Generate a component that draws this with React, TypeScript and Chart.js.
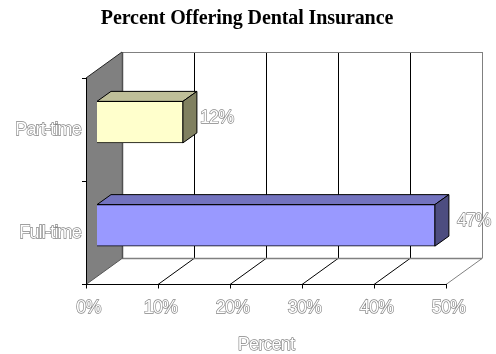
import React, { useEffect, useRef } from "react";
import { Chart, registerables } from "chart.js";

Chart.register(...registerables);

const chartTitle = "Percent Offering Dental Insurance";
const axisTitle = "Percent";
const categories = ["Part-time", "Full-time"];
const percentValues = [12, 47];
const faceColors = ["#ffffcc", "#9999ff"];
const topColors = ["#bfbf99", "#7373bf"];
const sideColors = ["#808060", "#4d4d80"];
const valueLabelGaps = [3, 8];
const axisTicks = [0, 10, 20, 30, 40, 50];

const WALL_DX = 36;
const WALL_DY = -26;
const BAR_SHIFT_X = 10.5;
const BAR_SHIFT_Y = -7.5;
const BAR_DEPTH_X = 14;
const BAR_DEPTH_Y = -10;

const LABEL_SPACING = "-0.8px";
const LABEL_FONT = "18px 'Liberation Sans'";
const HOLLOW_GREY = "#858585";
const HOLLOW_STROKE = 1.3;

function line(ctx: CanvasRenderingContext2D, x1: number, y1: number, x2: number, y2: number, color: string, width = 1) {
  ctx.beginPath();
  ctx.moveTo(x1, y1);
  ctx.lineTo(x2, y2);
  ctx.strokeStyle = color;
  ctx.lineWidth = width;
  ctx.stroke();
}

function poly(ctx: CanvasRenderingContext2D, pts: number[][], fill: string) {
  ctx.beginPath();
  pts.forEach(([x, y], i) => (i ? ctx.lineTo(x, y) : ctx.moveTo(x, y)));
  ctx.closePath();
  ctx.fillStyle = fill;
  ctx.fill();
  ctx.strokeStyle = "#000";
  ctx.lineWidth = 1;
  ctx.stroke();
}

function hollowText(ctx: CanvasRenderingContext2D, text: string, x: number, y: number, align: CanvasTextAlign) {
  ctx.save();
  ctx.font = LABEL_FONT;
  ctx.textAlign = align;
  ctx.textBaseline = "middle";
  ctx.lineJoin = "round";
  ctx.strokeStyle = HOLLOW_GREY;
  ctx.lineWidth = HOLLOW_STROKE;
  ctx.strokeText(text, x, y);
  ctx.fillStyle = "#fff";
  ctx.fillText(text, x, y);
  ctx.restore();
}

// Draws the 3D box: wall and floor behind the axes, bar sides behind the fronts.
const boxPlugin = {
  id: "box3d",
  beforeDraw(chart: any) {
    const { ctx, chartArea: a, scales } = chart;
    const xs = scales.x;
    ctx.letterSpacing = LABEL_SPACING;
    ctx.save();
    const backTop = a.top + WALL_DY;
    const backBottom = a.bottom + WALL_DY;

    ctx.beginPath();
    ctx.moveTo(a.left, a.top);
    ctx.lineTo(a.left + WALL_DX, backTop);
    ctx.lineTo(a.left + WALL_DX, backBottom);
    ctx.lineTo(a.left, a.bottom);
    ctx.closePath();
    ctx.fillStyle = "#808080";
    ctx.fill();
    line(ctx, a.left, a.top, a.left + WALL_DX, backTop, "#222");
    line(ctx, a.left, a.bottom, a.left + WALL_DX, backBottom, "#555");

    axisTicks.forEach((t) => {
      const px = xs.getPixelForValue(t);
      const last = t === axisTicks[axisTicks.length - 1];
      if (t > 0) {
        line(ctx, px + WALL_DX + 0.5, backTop, px + WALL_DX + 0.5, backBottom, last ? "#808080" : "#000");
        line(ctx, px, a.bottom, px + WALL_DX, backBottom, last ? "#808080" : "#000");
      }
    });
    line(ctx, a.left + WALL_DX, backTop + 0.5, a.right + WALL_DX, backTop + 0.5, "#808080");
    line(ctx, a.left + WALL_DX, backBottom, a.right + WALL_DX, backBottom, "#808080", 1.5);
    line(ctx, a.left + WALL_DX + 0.5, backTop, a.left + WALL_DX + 0.5, backBottom, "#505050", 1.5);
    ctx.restore();
  },
  beforeDatasetsDraw(chart: any) {
    const { ctx } = chart;
    ctx.save();
    ctx.translate(BAR_SHIFT_X, BAR_SHIFT_Y);
    chart.getDatasetMeta(0).data.forEach((bar: any, i: number) => {
      const { x, y, base, height } = bar.getProps(["x", "y", "base", "height"], true);
      const top = y - height / 2;
      const bottom = y + height / 2;
      poly(ctx, [[base, top], [x, top], [x + BAR_DEPTH_X, top + BAR_DEPTH_Y], [base + BAR_DEPTH_X, top + BAR_DEPTH_Y]], topColors[i]);
      poly(ctx, [[x, top], [x + BAR_DEPTH_X, top + BAR_DEPTH_Y], [x + BAR_DEPTH_X, bottom + BAR_DEPTH_Y], [x, bottom]], sideColors[i]);
    });
  },
  afterDatasetsDraw(chart: any) {
    const { ctx, chartArea: a, scales } = chart;
    ctx.restore();
    chart.getDatasetMeta(0).data.forEach((bar: any, i: number) => {
      const { x, y } = bar.getProps(["x", "y"], true);
      hollowText(
        ctx,
        `${percentValues[i]}%`,
        x + BAR_SHIFT_X + BAR_DEPTH_X + valueLabelGaps[i],
        y + BAR_SHIFT_Y + BAR_DEPTH_Y / 2 + 1,
        "left"
      );
    });
    hollowText(ctx, axisTitle, (scales.x.left + scales.x.right) / 2, a.bottom + 60.5, "center");

    // The heading keeps its own natural spacing, unlike the condensed axis labels.
    ctx.save();
    ctx.letterSpacing = "-0.1px";
    ctx.font = "bold 20px 'Liberation Serif'";
    ctx.fillStyle = "#000";
    ctx.textAlign = "center";
    ctx.textBaseline = "middle";
    ctx.fillText(chartTitle, 247, 19);
    ctx.restore();
  },
};

export default function App() {
  const ref = useRef<HTMLCanvasElement>(null);

  useEffect(() => {
    const chart = new Chart(ref.current!, {
      type: "bar",
      plugins: [boxPlugin],
      data: {
        labels: categories,
        datasets: [
          {
            data: percentValues,
            backgroundColor: faceColors,
            borderColor: "#000",
            borderWidth: 1,
            barThickness: 41.5,
          },
        ],
      },
      options: {
        indexAxis: "y",
        responsive: false,
        animation: false,
        layout: { padding: { right: 50, top: 78 } },
        plugins: {
          legend: { display: false },
          tooltip: { enabled: false },
          title: { display: false },
        },
        scales: {
          x: {
            min: 0,
            max: 50,
            afterFit: (s: any) => { s.height = 69.5; },
            afterBuildTicks: (s: any) => { s.ticks = axisTicks.map((value) => ({ value })); },
            border: { color: "#000" },
            grid: { drawOnChartArea: false, tickLength: 4, color: "#000" },
            ticks: {
              callback: (v: any) => `${v}%`,
              maxRotation: 0,
              autoSkip: false,
              padding: 9,
              labelOffset: 2.5,
              color: "#fff",
              textStrokeColor: HOLLOW_GREY,
              textStrokeWidth: HOLLOW_STROKE,
              font: { family: "'Liberation Sans'", size: 18 },
            },
          },
          y: {
            afterFit: (s: any) => { s.width = 86; },
            border: { color: "#000" },
            grid: { drawOnChartArea: false, tickLength: 4, color: "#000" },
            ticks: {
              padding: 1,
              color: "#fff",
              textStrokeColor: HOLLOW_GREY,
              textStrokeWidth: HOLLOW_STROKE,
              font: { family: "'Liberation Sans'", size: 18 },
            },
          },
        },
      },
    } as any);
    return () => chart.destroy();
  }, []);

  return (
    <div style={{ position: "fixed", left: 0, top: 0, width: 496, height: 354, background: "#fff" }}>
      <canvas ref={ref} width={496} height={354} style={{ display: "block" }} />
    </div>
  );
}
